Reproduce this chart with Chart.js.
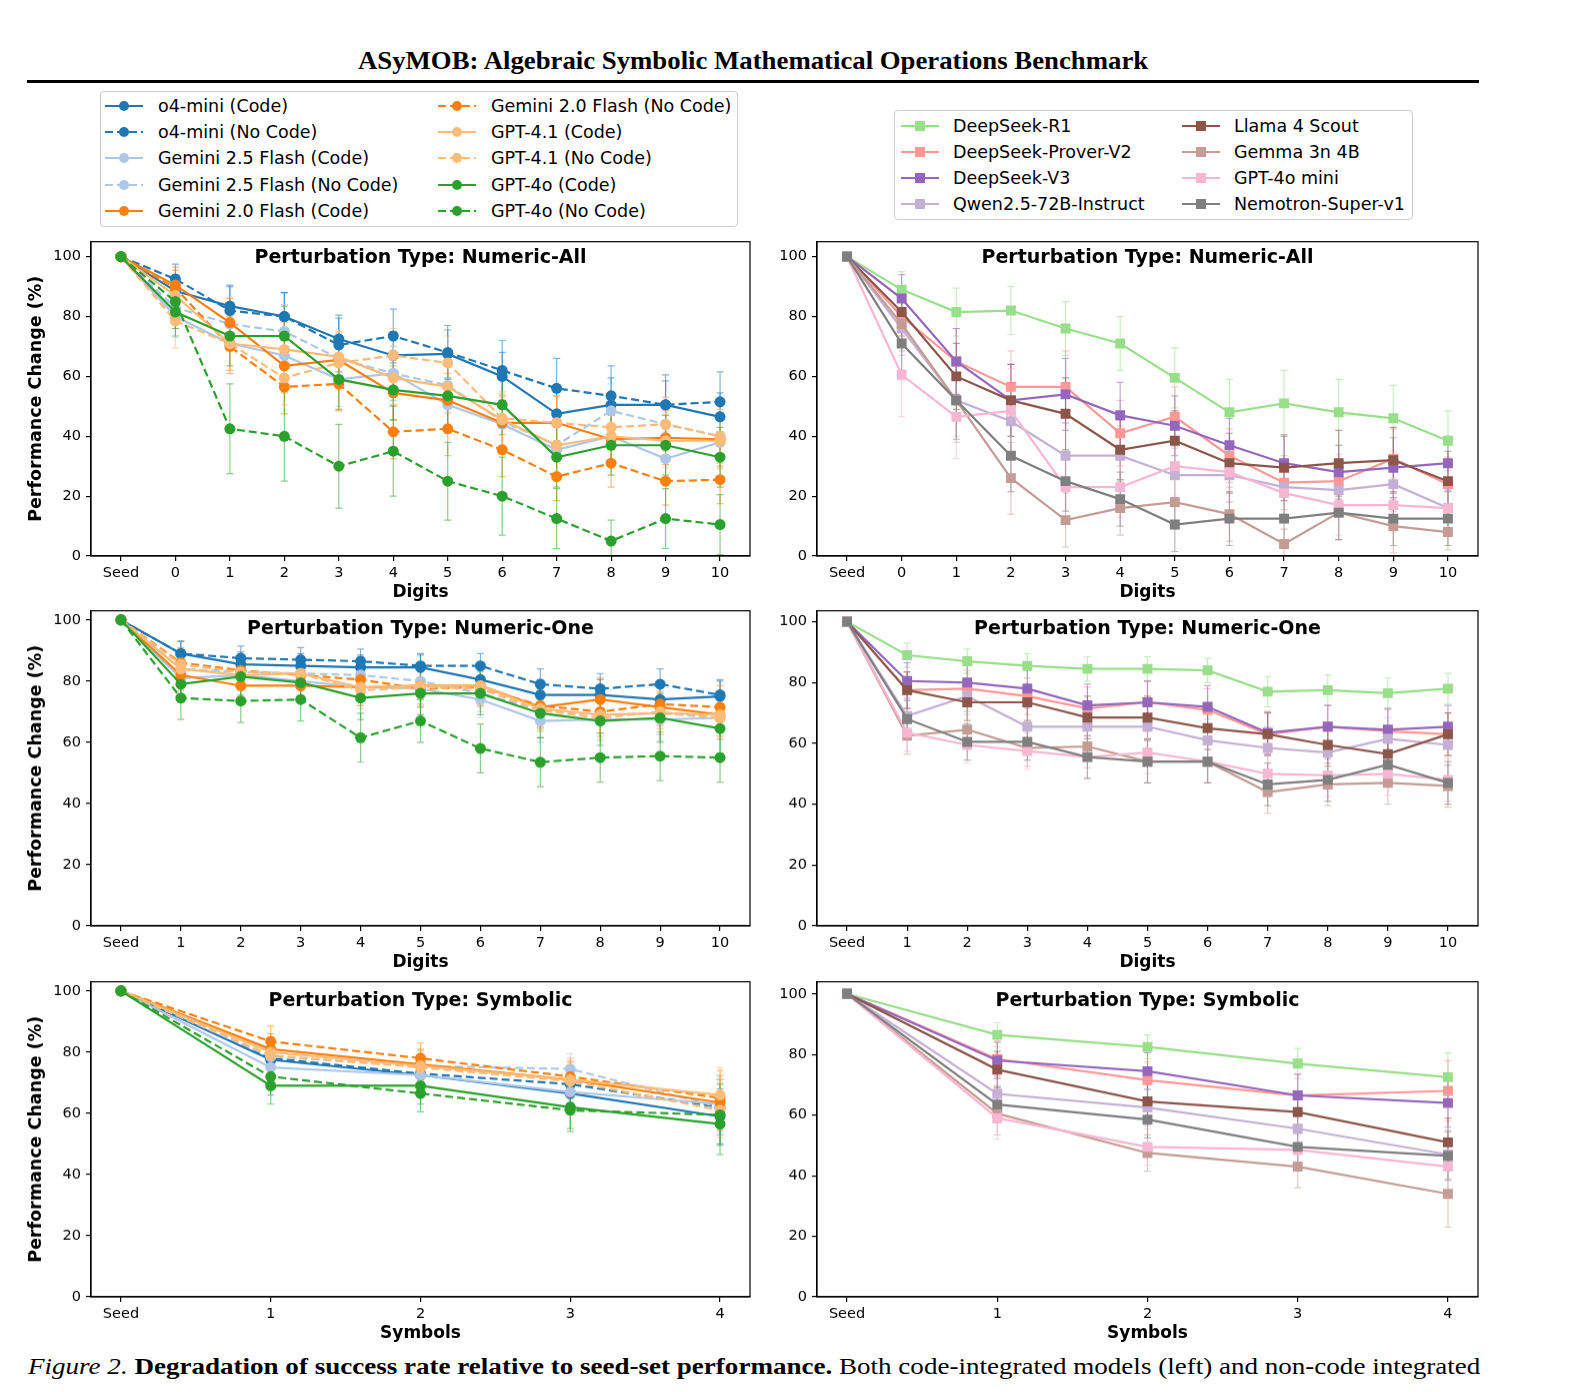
<!DOCTYPE html>
<html>
<head>
<meta charset="utf-8">
<script src="https://cdn.jsdelivr.net/npm/chart.js@4.4.0/dist/chart.umd.min.js"></script>
<style>
  body { margin: 0; background: #fff; width: 1574px; height: 1392px; position: relative; overflow: hidden; font-family: "DejaVu Sans", sans-serif; }
  #title { position: absolute; left: 358px; top: 46px; font: bold 25px "Liberation Serif", serif; line-height: 30px; white-space: nowrap; transform-origin: 0 0; }
  #rule { position: absolute; left: 27px; width: 1452px; top: 80px; height: 3px; background: #000; }
  .legend { position: absolute; border: 1px solid #ccc; border-radius: 4px; box-sizing: border-box; font-size: 17.5px; color: #000; }
  .item { position: absolute; height: 26px; line-height: 26px; white-space: nowrap; }
  .item svg { position: absolute; left: 0; top: 0; }
  .item span { position: absolute; top: 0; }
  #caption { position: absolute; left: 28px; top: 1354px; font: 23px "Liberation Serif", serif; line-height: 26px; white-space: nowrap; transform-origin: 0 0; }
</style>
</head>
<body>
<div id="title">ASyMOB: Algebraic Symbolic Mathematical Operations Benchmark</div>
<div id="rule"></div>
<div id="legLeft" class="legend" style="left:100px;top:91px;width:638px;height:136px"></div>
<div id="legRight" class="legend" style="left:894px;top:110px;width:519px;height:110px"></div>
<div id="caption"><i>Figure 2.</i> <b>Degradation of success rate relative to seed-set performance.</b> Both code-integrated models (left) and non-code integrated</div>

<script>
// x categories
const digitsAll = ['Seed', '0', '1', '2', '3', '4', '5', '6', '7', '8', '9', '10'];
const digitsOne = ['Seed', '1', '2', '3', '4', '5', '6', '7', '8', '9', '10'];
const symbolsCat = ['Seed', '1', '2', '3', '4'];
const yTicks = [0, 20, 40, 60, 80, 100];

const codeNames = ['o4-mini (Code)', 'o4-mini (No Code)', 'Gemini 2.5 Flash (Code)', 'Gemini 2.5 Flash (No Code)',
  'Gemini 2.0 Flash (Code)', 'Gemini 2.0 Flash (No Code)', 'GPT-4.1 (Code)', 'GPT-4.1 (No Code)', 'GPT-4o (Code)', 'GPT-4o (No Code)'];
const plainNames = ['DeepSeek-R1', 'DeepSeek-Prover-V2', 'DeepSeek-V3', 'Qwen2.5-72B-Instruct',
  'Llama 4 Scout', 'Gemma 3n 4B', 'GPT-4o mini', 'Nemotron-Super-v1'];

// Numeric-All, code-capable models (same order as codeNames)
const numAllCode = [
  [100, 88.5, 83.5, 80, 72.5, 67, 67.5, 60, 47.5, 50.5, 50.5, 46.5],
  [100, 92.5, 82, 80, 70.5, 73.5, 68, 62, 56, 53.5, 50.5, 51.5],
  [100, 80, 71, 67, 59, 61, 50.5, 44, 35.5, 40, 32.5, 38],
  [100, 83, 77.5, 75, 66, 61, 57, 45, 37, 48.5, 44, 40],
  [100, 90.5, 78, 63.5, 65.5, 54.5, 52, 44.5, 44.5, 39, 39.5, 39],
  [100, 89.5, 70, 56.5, 57.5, 41.5, 42.5, 35.5, 26.5, 31, 25, 25.5],
  [100, 87, 71, 69, 66.5, 59.5, 56.5, 45.5, 37, 40, 38.5, 38.5],
  [100, 78.5, 71, 59.5, 64.5, 67, 64.5, 46, 44.5, 43, 44, 40],
  [100, 81.5, 73.5, 73.5, 59, 55.5, 53.5, 50.5, 33, 37, 37, 33],
  [100, 85, 42.5, 40, 30, 35, 25, 20, 12.5, 5, 12.5, 10.5]
];
const numAllCodeErr = [
  [0, 5, 7, 8, 8, 8, 8, 8, 9, 9, 8, 8],
  [0, 5, 8, 8, 9, 9, 9, 10, 10, 10, 10, 10],
  [0, 7, 9, 9, 9, 9, 9, 9, 9, 9, 9, 9],
  [0, 7, 9, 9, 9, 9, 9, 9, 9, 9, 9, 9],
  [0, 6, 8, 9, 9, 9, 9, 9, 9, 9, 9, 9],
  [0, 6, 9, 9, 9, 9, 9, 9, 8, 8, 8, 8],
  [0, 7, 9, 9, 9, 9, 9, 9, 9, 9, 9, 9],
  [0, 9, 9, 9, 9, 9, 9, 9, 9, 9, 9, 9],
  [0, 8, 10, 10, 10, 10, 10, 10, 10, 10, 10, 10],
  [0, 9, 15, 15, 14, 15, 13, 13, 10, 7, 10, 10]
];

// Numeric-All, other models (same order as plainNames)
const numAllPlain = [
  [100, 89, 81.5, 82, 76, 71, 59.5, 48, 51, 48, 46, 38.5],
  [100, 80, 65, 56.5, 56.5, 41, 46.5, 33.5, 24.5, 25, 32.5, 24],
  [100, 86, 65, 52, 54, 47, 43.5, 37, 31, 28, 29.5, 31],
  [100, 76, 52, 45, 33.5, 33.5, 27, 27, 23, 22, 24, 16],
  [100, 81.5, 60, 52, 47.5, 35.5, 38.5, 31, 29.5, 31, 32, 25],
  [100, 77.5, 52, 26, 12, 16, 18, 14, 4, 14.5, 10, 8],
  [100, 60.5, 46.5, 48.5, 23, 23, 30, 28, 21, 17, 17, 16],
  [100, 71, 52, 33.5, 25, 19, 10.5, 12.5, 12.5, 14.5, 12.5, 12.5]
];
const numAllPlainErr = [
  [0, 6, 8, 8, 9, 9, 10, 11, 11, 11, 11, 10],
  [0, 8, 11, 12, 12, 11, 10, 9, 9, 9, 10, 9],
  [0, 8, 11, 12, 12, 11, 10, 9, 9, 9, 10, 9],
  [0, 9, 12, 12, 11, 10, 9, 9, 9, 9, 9, 8],
  [0, 8, 11, 12, 12, 10, 10, 10, 11, 11, 11, 10],
  [0, 9, 14, 12, 9, 9, 9, 9, 5, 9, 9, 6],
  [0, 14, 14, 14, 10, 10, 10, 10, 10, 10, 9, 8],
  [0, 9, 13, 12, 10, 9, 9, 9, 9, 9, 9, 9]
];

// Numeric-One
const numOneCode = [
  [100, 89, 85.5, 85, 84.5, 84.5, 80.5, 75.5, 75.5, 74, 75],
  [100, 89, 87.5, 87, 86.5, 85, 85, 79, 77.5, 79, 75.5],
  [100, 81, 82, 80, 78, 77.5, 74, 67, 67.5, 67.5, 68],
  [100, 84, 83, 82.5, 82, 80, 76, 70.5, 69, 69.5, 68],
  [100, 82, 78.5, 78.5, 78, 78.5, 78.5, 71.5, 74, 71.5, 69],
  [100, 86, 83.5, 82, 80.5, 77.5, 78, 72, 70, 72.5, 71.5],
  [100, 84, 82, 82.5, 78, 78.5, 78.5, 71, 69, 69.5, 69],
  [100, 85.5, 83, 82.5, 77, 78, 77.5, 70.5, 68, 70, 68],
  [100, 79, 81.5, 79.5, 74.5, 76, 76, 69.5, 67, 68, 64.5],
  [100, 74.5, 73.5, 74, 61.5, 67, 58, 53.5, 55, 55.5, 55]
];
const numOneCodeErr = [
  [0, 4, 4, 4, 4, 4, 4, 5, 5, 5, 5],
  [0, 4, 4, 4, 4, 4, 4, 5, 5, 5, 5],
  [0, 5, 5, 5, 6, 6, 6, 7, 7, 7, 7],
  [0, 5, 5, 5, 6, 6, 6, 7, 7, 7, 7],
  [0, 5, 5, 5, 6, 6, 6, 7, 7, 7, 7],
  [0, 5, 5, 5, 6, 6, 6, 7, 7, 7, 7],
  [0, 5, 5, 5, 6, 6, 6, 7, 7, 7, 7],
  [0, 5, 5, 5, 6, 6, 6, 7, 7, 7, 7],
  [0, 6, 6, 6, 7, 7, 7, 8, 8, 8, 8],
  [0, 7, 7, 7, 8, 7, 8, 8, 8, 8, 8]
];
const numOnePlain = [
  [100, 89, 87, 85.5, 84.5, 84.5, 84, 77, 77.5, 76.5, 78],
  [100, 77.5, 78, 75.5, 71.5, 73.5, 71, 63, 65.5, 64, 63],
  [100, 80.5, 80, 78, 72.5, 73.5, 72, 63.5, 65.5, 64.5, 65.5],
  [100, 69, 75.5, 65.5, 65.5, 65.5, 61, 58.5, 57, 61.5, 59.5],
  [100, 77.5, 73.5, 73.5, 68.5, 68.5, 65, 63, 59.5, 56.5, 63],
  [100, 62.5, 64.5, 58.5, 59, 54, 54, 44, 46.5, 47, 46],
  [100, 63.5, 59.5, 57.5, 55.5, 57, 54, 50, 49.5, 50, 48],
  [100, 68, 60.5, 60.5, 55.5, 54, 54, 46.5, 48, 53, 47]
];
const numOnePlainErr = [
  [0, 4, 4, 4, 4, 4, 4, 5, 5, 5, 5],
  [0, 6, 6, 6, 7, 7, 7, 7, 7, 7, 7],
  [0, 6, 6, 6, 7, 7, 7, 7, 7, 7, 7],
  [0, 6, 6, 6, 7, 7, 7, 7, 7, 7, 7],
  [0, 6, 6, 6, 7, 7, 7, 7, 7, 7, 7],
  [0, 6, 6, 6, 7, 7, 7, 7, 7, 7, 7],
  [0, 6, 6, 6, 7, 7, 7, 7, 7, 7, 7],
  [0, 6, 6, 6, 7, 7, 7, 7, 7, 7, 7]
];

// Symbolic
const symCode = [
  [100, 77.5, 72.5, 66.5, 59],
  [100, 78, 73, 69.5, 62],
  [100, 75, 72.5, 67, 63],
  [100, 78.5, 75.5, 74.5, 62],
  [100, 81, 76, 71, 63.5],
  [100, 83.5, 78, 72, 65],
  [100, 80, 75.5, 71, 66],
  [100, 79, 75, 70.5, 61],
  [100, 69, 69, 62, 56.5],
  [100, 72, 66.5, 61, 59.5]
];
const symCodeErr = [
  [0, 5, 5, 6, 9], [0, 5, 5, 6, 9], [0, 5, 5, 6, 9], [0, 5, 5, 5, 9], [0, 5, 5, 6, 9],
  [0, 5, 5, 6, 9], [0, 5, 5, 6, 9], [0, 5, 5, 6, 9], [0, 6, 6, 7, 10], [0, 6, 6, 7, 10]
];
const symPlain = [
  [100, 86.5, 82.5, 77, 72.5],
  [100, 78.5, 71.5, 66.5, 68],
  [100, 78, 74.5, 66.5, 64],
  [100, 67, 62.5, 55.5, 47],
  [100, 75, 64.5, 61, 51],
  [100, 60.5, 47.5, 43, 34],
  [100, 59, 49.5, 48.5, 43],
  [100, 63.5, 58.5, 49.5, 46.5]
];
const symPlainErr = [
  [0, 4, 4, 5, 8], [0, 6, 6, 7, 10], [0, 6, 6, 7, 8], [0, 6, 6, 7, 8],
  [0, 6, 6, 7, 8], [0, 7, 6, 7, 11], [0, 7, 6, 7, 8], [0, 6, 6, 7, 8]
];

// styles
const codeColors = ['#1f77b4', '#1f77b4', '#aec7e8', '#aec7e8', '#ff7f0e', '#ff7f0e', '#ffbb78', '#ffbb78', '#2ca02c', '#2ca02c'];
const codeDash = [[], [8, 4], [], [8, 4], [], [8, 4], [], [8, 4], [], [8, 4]];
const plainColors = ['#98df8a', '#ff9896', '#9467bd', '#c5b0d5', '#8c564b', '#c49c94', '#f7b6d2', '#7f7f7f'];
const plainDash = [[], [], [], [], [], [], [], []];

const FONT = '"DejaVu Sans", sans-serif';

function rgba(hex, a) {
  const n = parseInt(hex.slice(1), 16);
  return `rgba(${n >> 16},${(n >> 8) & 255},${n & 255},${a})`;
}

// stretch the serif title and caption to the widths they take in the figure
function fitWidth(id, width) {
  const el = document.getElementById(id);
  el.style.transform = `scaleX(${width / el.scrollWidth})`;
}
fitWidth('title', 790);
fitWidth('caption', 1452);

// legends
function buildLegend(el, names, colors, dashes, marker, rows, geo) {
  names.forEach((name, i) => {
    const col = Math.floor(i / rows), row = i % rows;
    const item = document.createElement('div');
    item.className = 'item';
    item.style.left = geo.colX[col] + 'px';
    item.style.top = (geo.row0 + geo.rowH * row - 13) + 'px';
    const dash = dashes[i].length ? `stroke-dasharray="${dashes[i].join(',')}"` : '';
    const mk = marker === 'circle'
      ? `<circle cx="${geo.mk}" cy="13" r="5" fill="${colors[i]}"/>`
      : `<rect x="${geo.mk - 5}" y="8" width="10" height="10" fill="${colors[i]}"/>`;
    item.innerHTML = `<svg width="44" height="26"><line x1="0" y1="13" x2="${geo.sw}" y2="13" stroke="${colors[i]}" stroke-width="2.2" ${dash}/>${mk}</svg><span style="left:${geo.tx}px">${name}</span>`;
    el.appendChild(item);
  });
}
buildLegend(document.getElementById('legLeft'), codeNames, codeColors, codeDash, 'circle', 5,
  { colX: [4, 337], row0: 14, rowH: 26.2, sw: 38, mk: 19, tx: 53 });
buildLegend(document.getElementById('legRight'), plainNames, plainColors, plainDash, 'rect', 4,
  { colX: [6, 287], row0: 15, rowH: 25.9, sw: 38, mk: 19, tx: 52 });

function buildChart(p, left, top, w, h) {
  const cv = document.createElement('canvas');
  cv.width = w; cv.height = h;
  cv.style.cssText = `position:absolute;left:${left}px;top:${top}px;width:${w}px;height:${h}px;`;
  document.body.appendChild(cv);
  const n = p.labels.length;
  const margin = (n - 1) * 0.05;

  const datasets = p.vals.map((v, i) => ({
    label: p.names[i],
    data: v.map((y, j) => ({ x: j, y: y })),
    borderColor: p.colors[i],
    backgroundColor: p.colors[i],
    borderWidth: 2.2,
    borderDash: p.dashes[i],
    pointStyle: p.marker,
    pointRadius: p.radius,
    pointHoverRadius: p.radius,
    pointBorderWidth: 0,
    tension: 0,
    fill: false,
    order: -i
  }));

  const errorBars = {
    id: 'errorBars',
    beforeDatasetsDraw(chart) {
      const ctx = chart.ctx, ys = chart.scales.y, a = chart.chartArea;
      ctx.save();
      ctx.beginPath();
      ctx.rect(a.left, a.top, a.right - a.left, a.bottom - a.top);
      ctx.clip();
      ctx.lineWidth = 1.2;
      p.errs.forEach((errs, i) => {
        const meta = chart.getDatasetMeta(i);
        ctx.strokeStyle = rgba(p.colors[i], 0.55);
        errs.forEach((e, j) => {
          if (!e) return;
          const x = meta.data[j].x;
          const y1 = ys.getPixelForValue(p.vals[i][j] - e);
          const y2 = ys.getPixelForValue(p.vals[i][j] + e);
          ctx.beginPath();
          ctx.moveTo(x, y1); ctx.lineTo(x, y2);
          ctx.moveTo(x - 3.5, y1); ctx.lineTo(x + 3.5, y1);
          ctx.moveTo(x - 3.5, y2); ctx.lineTo(x + 3.5, y2);
          ctx.stroke();
        });
      });
      ctx.restore();
    }
  };

  const frame = {
    id: 'frame',
    afterDraw(chart) {
      const ctx = chart.ctx, a = chart.chartArea;
      ctx.save();
      ctx.strokeStyle = '#000';
      ctx.lineWidth = 1.2;
      ctx.strokeRect(a.left, a.top, a.right - a.left, a.bottom - a.top);
      ctx.fillStyle = '#000';
      ctx.font = 'bold 19px ' + FONT;
      ctx.textAlign = 'center';
      ctx.textBaseline = 'alphabetic';
      ctx.fillText(p.title, (a.left + a.right) / 2, a.top + p.titleDy);
      ctx.restore();
    }
  };

  const chart = new Chart(cv, {
    type: 'line',
    data: { datasets },
    plugins: [errorBars, frame],
    options: {
      responsive: false,
      maintainAspectRatio: false,
      animation: false,
      events: [],
      layout: { padding: { top: 10, right: 10, left: 0, bottom: 0 } },
      plugins: { legend: { display: false }, tooltip: { enabled: false } },
      scales: {
        x: {
          type: 'linear',
          min: -margin,
          max: n - 1 + margin,
          afterBuildTicks: s => { s.ticks = p.labels.map((_, i) => ({ value: i })); },
          afterFit: s => { s.height = p.xH; },
          ticks: {
            callback: v => p.labels[v],
            autoSkip: false, maxRotation: 0, padding: 4,
            color: '#000', font: { size: 14.5, family: FONT }
          },
          grid: { drawOnChartArea: false, drawTicks: true, tickLength: 5, color: '#000', lineWidth: 1.2 },
          border: { color: '#000', width: 1.2 },
          title: {
            display: true, text: p.xTitle, color: '#000',
            font: { size: 17, weight: 'bold', family: FONT }, padding: { top: 0, bottom: 4 }
          }
        },
        y: {
          type: 'linear',
          min: 0,
          max: p.ymax,
          afterBuildTicks: s => { s.ticks = yTicks.map(v => ({ value: v })); },
          afterFit: s => { s.width = p.yW; },
          ticks: { padding: 5, color: '#000', font: { size: 14.5, family: FONT } },
          grid: { drawOnChartArea: false, drawTicks: true, tickLength: 5, color: '#000', lineWidth: 1.2 },
          border: { color: '#000', width: 1.2 },
          title: {
            display: p.yTitle, text: 'Performance Change (%)', color: '#000',
            font: { size: 17.5, weight: 'bold', family: FONT }, padding: { top: 4, bottom: 4 }
          }
        }
      }
    }
  });
  return { chart, cv };
}

// draw once, then move / resize the canvas so the plot area sits where it does in the figure
function makePanel(p) {
  const first = buildChart(p, p.left, p.top, p.w, p.h);
  const a = first.chart.chartArea;
  const left = p.left + (p.area[0] - (p.left + a.left));
  const top = p.top + (p.area[1] - (p.top + a.top));
  const w = p.w + (p.area[2] - p.area[0]) - (a.right - a.left);
  const h = p.h + (p.area[3] - p.area[1]) - (a.bottom - a.top);
  first.chart.destroy();
  first.cv.remove();
  buildChart(p, left, top, w, h);
}

const leftBase = { left: 22, w: 738, yW: 69, xH: 51, yTitle: true,
  names: codeNames, colors: codeColors, dashes: codeDash, marker: 'circle', radius: 5.5 };
const rightBase = { left: 760, w: 728, yW: 57, xH: 51, yTitle: false,
  names: plainNames, colors: plainColors, dashes: plainDash, marker: 'rect', radius: 7 };

makePanel(Object.assign({}, leftBase, { top: 232, h: 375, area: [91, 241.5, 750, 556], ymax: 105,
  labels: digitsAll, xTitle: 'Digits', title: 'Perturbation Type: Numeric-All', titleDy: 21,
  vals: numAllCode, errs: numAllCodeErr }));
makePanel(Object.assign({}, rightBase, { top: 232, h: 375, area: [817, 241.5, 1478, 556], ymax: 105,
  labels: digitsAll, xTitle: 'Digits', title: 'Perturbation Type: Numeric-All', titleDy: 21,
  vals: numAllPlain, errs: numAllPlainErr }));
makePanel(Object.assign({}, leftBase, { top: 601, h: 376, area: [91, 611, 750, 926], ymax: 103,
  labels: digitsOne, xTitle: 'Digits', title: 'Perturbation Type: Numeric-One', titleDy: 23,
  vals: numOneCode, errs: numOneCodeErr }));
makePanel(Object.assign({}, rightBase, { top: 601, h: 376, area: [817, 611, 1478, 926], ymax: 103.6,
  labels: digitsOne, xTitle: 'Digits', title: 'Perturbation Type: Numeric-One', titleDy: 23,
  vals: numOnePlain, errs: numOnePlainErr }));
makePanel(Object.assign({}, leftBase, { top: 972, h: 376, area: [91, 982, 750, 1297], ymax: 103,
  labels: symbolsCat, xTitle: 'Symbols', title: 'Perturbation Type: Symbolic', titleDy: 24,
  vals: symCode, errs: symCodeErr }));
makePanel(Object.assign({}, rightBase, { top: 972, h: 376, area: [817, 982, 1478, 1297], ymax: 104,
  labels: symbolsCat, xTitle: 'Symbols', title: 'Perturbation Type: Symbolic', titleDy: 24,
  vals: symPlain, errs: symPlainErr }));
</script>
</body>
</html>
